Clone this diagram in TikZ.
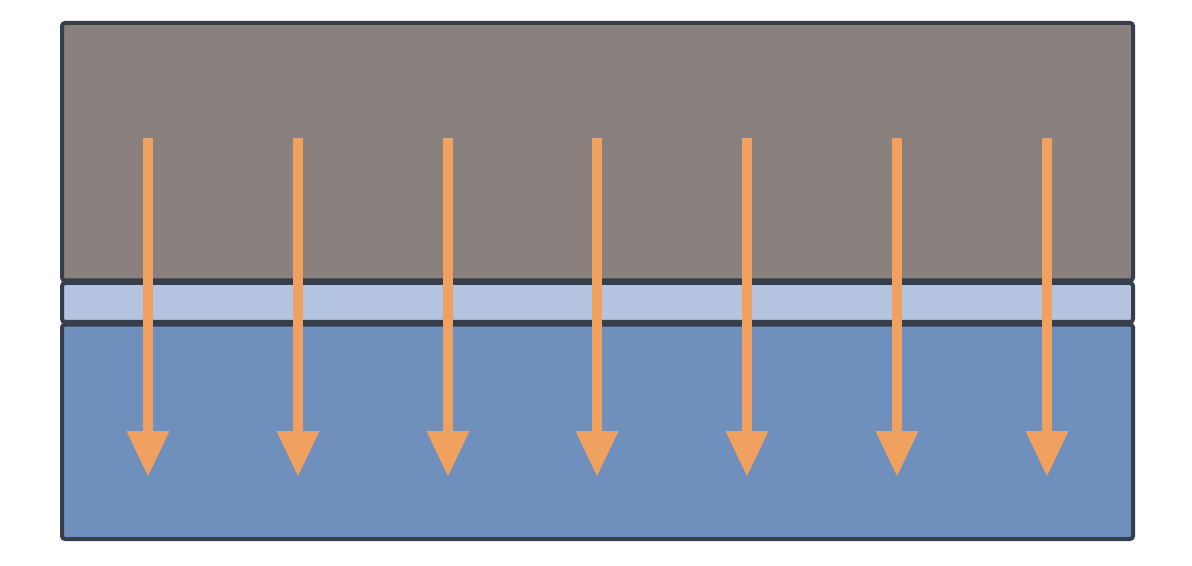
\documentclass[tikz,border=0pt]{standalone}
\usetikzlibrary{arrows.meta}
\definecolor{rockgray}{RGB}{138,128,125}
\definecolor{layerlight}{RGB}{180,196,224}
\definecolor{layerblue}{RGB}{111,143,188}
\definecolor{fluxorange}{RGB}{240,161,96}
\definecolor{edgedark}{RGB}{55,62,75}
\tikzset{
    layer/.style = {draw = edgedark, line width = 2pt, rounded corners = 1.5pt},
    flux/.style = {draw = fluxorange, line width = 5pt, -{Triangle[width = 20pt, length = 23pt]}}
}
\begin{document}
\begin{tikzpicture}[x = 0.5pt, y = -0.5pt]
            \useasboundingbox (0,0) rectangle (1192,566);
            \draw[layer, fill = rockgray] (62,23) rectangle (1133,280.5);
            \draw[layer, fill = layerlight] (62,283) rectangle (1133,322);
            \draw[layer, fill = layerblue] (62,324.5) rectangle (1133,539);
            \draw[flux] (148,138) -- (148,477);
            \draw[flux] (298,138) -- (298,477);
            \draw[flux] (448,138) -- (448,477);
            \draw[flux] (597,138) -- (597,477);
            \draw[flux] (747,138) -- (747,477);
            \draw[flux] (897,138) -- (897,477);
            \draw[flux] (1047,138) -- (1047,477);
        \end{tikzpicture}
\end{document}
